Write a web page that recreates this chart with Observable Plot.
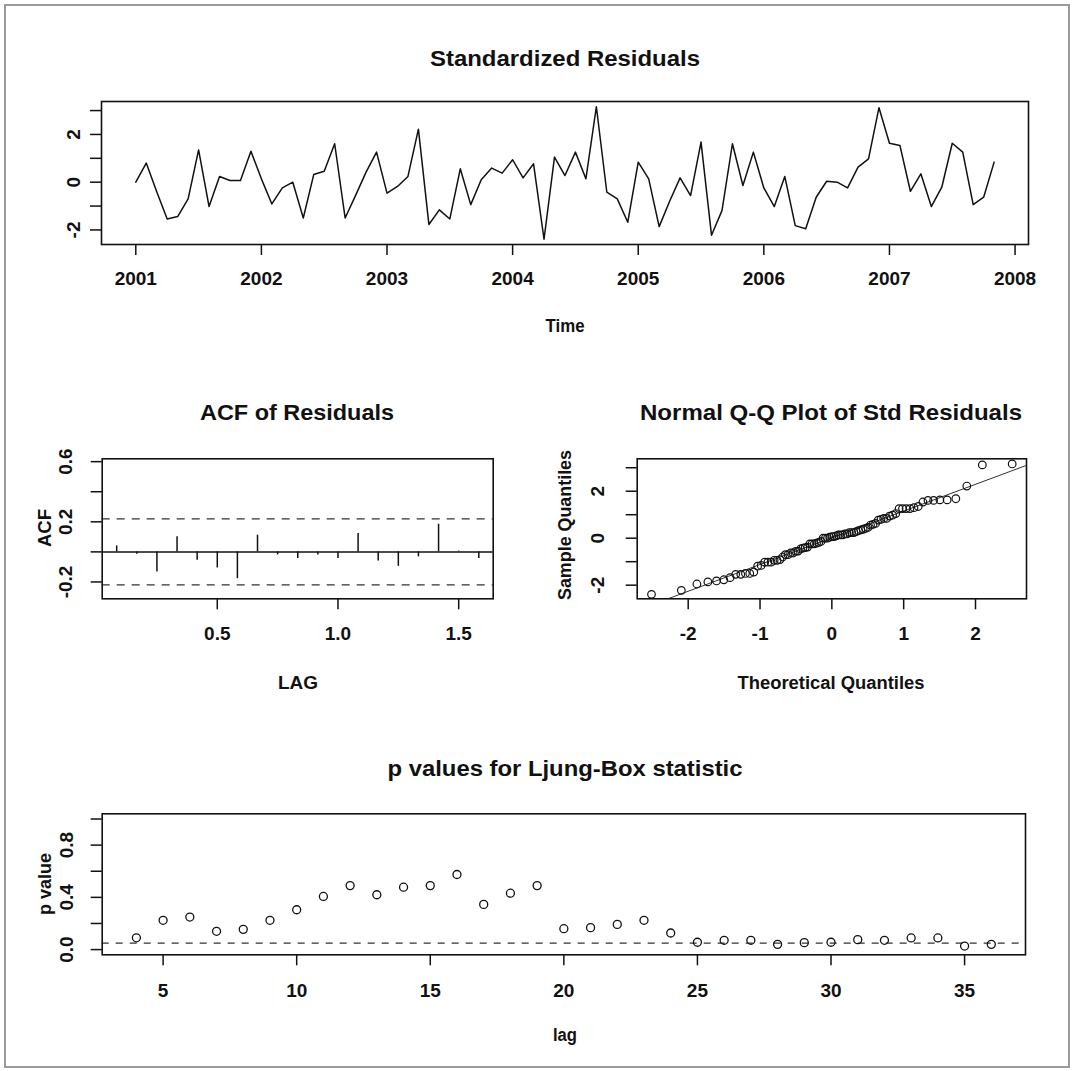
<!DOCTYPE html>
<html><head><meta charset="utf-8">
<script src="https://cdn.jsdelivr.net/npm/d3@7"></script>
<script src="https://cdn.jsdelivr.net/npm/@observablehq/plot@0.6"></script>
<style>
html,body{margin:0;padding:0;background:#fff;}
#root{position:relative;width:1075px;height:1071px;overflow:hidden;background:#fff;}
</style></head><body><div id="root"></div>
<script>
// ---------- data ----------
const residStart = 2001;      // monthly series, Jan 2001
const residFreq = 12;
const residuals = [0.0,0.80,-0.40,-1.54,-1.44,-0.70,1.35,-1.02,0.24,0.07,0.07,1.30,
  0.14,-0.91,-0.24,0.0,-1.50,0.32,0.46,1.61,-1.50,-0.55,0.42,1.26,
  -0.46,-0.18,0.24,2.22,-1.77,-1.16,-1.54,0.56,-0.94,0.10,0.59,0.38,
  0.94,0.18,0.77,-2.39,1.05,0.28,1.26,0.14,3.16,-0.42,-0.70,-1.68,
  0.84,0.14,-1.86,-0.80,0.18,-0.56,1.68,-2.22,-1.19,1.61,-0.14,1.26,
  -0.24,-1.02,0.24,-1.82,-1.95,-0.63,0.04,0.0,-0.24,0.63,0.98,3.12,
  1.63,1.54,-0.38,0.35,-1.02,-0.21,1.63,1.26,-0.94,-0.63,0.84];
const yearTicks = [2001,2002,2003,2004,2005,2006,2007,2008];
const residYTicks = [-2,-1,0,1,2,3];
const residYLabels = [-2,0,2];

const acfLagMonths = [1,2,3,4,5,6,7,8,9,10,11,12,13,14,15,16,17,18,19];
const acfValues = [0.04,-0.015,-0.133,0.10,-0.056,-0.107,-0.178,0.111,-0.02,-0.044,
  -0.02,-0.044,0.122,-0.06,-0.096,-0.033,0.184,0.005,-0.044];
const acfBound = 0.22;
const acfXTicks = [0.5,1.0,1.5];
const acfYTicks = [-0.2,0,0.2,0.4,0.6];
const acfYLabels = [-0.2,0.2,0.6];

const qqXTicks = [-2,-1,0,1,2];
const qqYTicks = [-2,-1,0,1,2,3];
const qqYLabels = [-2,0,2];

const lbLags = [4,5,6,7,8,9,10,11,12,13,14,15,16,17,18,19,20,21,22,23,24,25,26,27,28,29,30,31,32,33,34,35,36];
const lbPValues = [0.09,0.224,0.249,0.14,0.155,0.224,0.305,0.407,0.49,0.42,0.478,0.49,0.575,0.346,0.432,0.49,
  0.16,0.168,0.193,0.224,0.127,0.056,0.071,0.071,0.04,0.053,0.056,0.076,0.071,0.089,0.089,0.027,0.04];
const lbSignif = 0.05;
const lbXTicks = [5,10,15,20,25,30,35];
const lbYTicks = [0,0.2,0.4,0.6,0.8,1.0];
const lbYLabels = [0,0.4,0.8];

// ---------- helpers ----------
function qnorm(p){
  const a=[-3.969683028665376e+01,2.209460984245205e+02,-2.759285104469687e+02,1.383577518672690e+02,-3.066479806614716e+01,2.506628277459239e+00];
  const b=[-5.447609879822406e+01,1.615858368580409e+02,-1.556989798598866e+02,6.680131188771972e+01,-1.328068155288572e+01];
  const c=[-7.784894002430293e-03,-3.223964580411365e-01,-2.400758277161838e+00,-2.549732539343734e+00,4.374664141464968e+00,2.938163982698783e+00];
  const e=[7.784695709041462e-03,3.224671290700398e-01,2.445134137142996e+00,3.754408661907416e+00];
  const pl=0.02425, ph=1-pl; let q,r;
  if(p<pl){q=Math.sqrt(-2*Math.log(p));return (((((c[0]*q+c[1])*q+c[2])*q+c[3])*q+c[4])*q+c[5])/((((e[0]*q+e[1])*q+e[2])*q+e[3])*q+1);}
  if(p<=ph){q=p-0.5;r=q*q;return (((((a[0]*r+a[1])*r+a[2])*r+a[3])*r+a[4])*r+a[5])*q/(((((b[0]*r+b[1])*r+b[2])*r+b[3])*r+b[4])*r+1);}
  q=Math.sqrt(-2*Math.log(1-p));return -(((((c[0]*q+c[1])*q+c[2])*q+c[3])*q+c[4])*q+c[5])/((((e[0]*q+e[1])*q+e[2])*q+e[3])*q+1);
}
const fmtR = d => String(d).replace("\u2212","-");
const fmt1 = d => d.toFixed(1);
const FONT = "'Liberation Sans', Arial, Helvetica, sans-serif";
const INK = "#111";
const baseStyle = {fontFamily: FONT, fontSize: "19px", fontWeight: "bold", color: INK, background: "transparent", overflow: "visible"};
const root = document.getElementById("root");
function place(svg, left, top){
  svg.style.position = "absolute";
  svg.style.left = left + "px";
  svg.style.top = top + "px";
  svg.style.maxWidth = "none";
  root.appendChild(svg);
}

// ---------- panel 1: standardized residuals ----------
const residData = residuals.map((r,i) => ({t: residStart + i/residFreq, r}));
const p1 = Plot.plot({
  width: 1075, height: 300,
  marginLeft: 101, marginRight: 47, marginTop: 101, marginBottom: 56,
  style: baseStyle,
  x: {domain: [2000.727, 2008.107]},
  y: {domain: [-2.61, 3.38]},
  marks: [
    Plot.line(residData, {x: "t", y: "r", stroke: INK, strokeWidth: 1.5}),
    Plot.frame({stroke: INK, strokeWidth: 1.6}),
    Plot.axisX({ticks: yearTicks, tickSize: 11, tickPadding: 16, tickFormat: d => String(d), label: null, strokeWidth: 1.5}),
    Plot.axisY({ticks: residYTicks, tickSize: 11, tickPadding: 11, tickRotate: -90, label: null, strokeWidth: 1.5,
      tickFormat: d => residYLabels.includes(d) ? fmtR(d) : ""})
  ]
});
place(p1, 0, 0);

// ---------- panel 2: ACF ----------
const acfData = acfLagMonths.map((m,i) => ({lag: m/12, acf: acfValues[i]}));
const p2 = Plot.plot({
  width: 530, height: 230,
  marginLeft: 101.7, marginRight: 37.3, marginTop: 28.3, marginBottom: 61.7,
  style: baseStyle,
  x: {domain: [0.0233, 1.643]},
  y: {domain: [-0.312, 0.619]},
  marks: [
    Plot.ruleY([acfBound, -acfBound], {stroke: "#333", strokeWidth: 1.3, strokeDasharray: "8,7"}),
    Plot.ruleY([0], {stroke: INK, strokeWidth: 1.5}),
    Plot.ruleX(acfData, {x: "lag", y1: 0, y2: "acf", stroke: INK, strokeWidth: 1.5}),
    Plot.frame({stroke: INK, strokeWidth: 1.6}),
    Plot.axisX({ticks: acfXTicks, tickSize: 11, tickPadding: 17, tickFormat: fmt1, label: null, strokeWidth: 1.5}),
    Plot.axisY({ticks: acfYTicks, tickSize: 11, tickPadding: 19, tickRotate: -90, label: null, strokeWidth: 1.5,
      tickFormat: d => acfYLabels.some(v => Math.abs(v-d)<1e-9) ? fmtR(fmt1(d)) : ""})
  ]
});
place(p2, 0, 430);

// ---------- panel 3: normal Q-Q ----------
const sorted = residuals.slice().sort((a,b) => a-b);
const n = sorted.length;
const qqData = sorted.map((v,i) => ({tq: qnorm((i+0.5)/n), sq: v}));
const q1 = d3.quantile(sorted, 0.25), q3 = d3.quantile(sorted, 0.75);
const z1 = qnorm(0.25), z3 = qnorm(0.75);
const slope = (q3-q1)/(z3-z1), intercept = q1 - slope*z1;
const qqXDomain = [-2.71, 2.71];
const qqLine = qqXDomain.map(x => ({tq: x, sq: intercept + slope*x}));
const p3 = Plot.plot({
  width: 545, height: 230,
  marginLeft: 106.7, marginRight: 49, marginTop: 28.3, marginBottom: 61.7,
  style: baseStyle,
  x: {domain: qqXDomain},
  y: {domain: [-2.58, 3.38]},
  marks: [
    Plot.line(qqLine, {x: "tq", y: "sq", stroke: "#333", strokeWidth: 1, clip: true}),
    Plot.dot(qqData, {x: "tq", y: "sq", r: 3.8, stroke: INK, strokeWidth: 1.2, fill: "none"}),
    Plot.frame({stroke: INK, strokeWidth: 1.6}),
    Plot.axisX({ticks: qqXTicks, tickSize: 11, tickPadding: 17, tickFormat: fmtR, label: null, strokeWidth: 1.5}),
    Plot.axisY({ticks: qqYTicks, tickSize: 11, tickPadding: 22, tickRotate: -90, label: null, strokeWidth: 1.5,
      tickFormat: d => qqYLabels.includes(d) ? fmtR(d) : ""})
  ]
});
place(p3, 530, 430);

// ---------- panel 4: Ljung-Box ----------
const lbData = lbLags.map((l,i) => ({lag: l, p: lbPValues[i]}));
const p4 = Plot.plot({
  width: 1075, height: 230,
  marginLeft: 101.7, marginRight: 50, marginTop: 23.3, marginBottom: 65.7,
  style: baseStyle,
  x: {domain: [2.72, 37.28]},
  y: {domain: [-0.04, 1.04]},
  marks: [
    Plot.ruleY([lbSignif], {stroke: "#333", strokeWidth: 1.3, strokeDasharray: "7,7"}),
    Plot.dot(lbData, {x: "lag", y: "p", r: 4, stroke: INK, strokeWidth: 1.3, fill: "none"}),
    Plot.frame({stroke: INK, strokeWidth: 1.6}),
    Plot.axisX({ticks: lbXTicks, tickSize: 11, tickPadding: 18, tickFormat: d => String(d), label: null, strokeWidth: 1.5}),
    Plot.axisY({ticks: lbYTicks, tickSize: 11, tickPadding: 18, tickRotate: -90, label: null, strokeWidth: 1.5,
      tickFormat: d => lbYLabels.some(v => Math.abs(v-d)<1e-9) ? fmt1(d) : ""})
  ]
});
place(p4, 0, 790);

// ---------- titles and axis labels ----------
const overlay = d3.create("svg").attr("width",1075).attr("height",1071)
  .style("position","absolute").style("left","0px").style("top","0px").style("pointer-events","none");
overlay.append("rect").attr("x",5).attr("y",5).attr("width",1064).attr("height",1062)
  .attr("fill","none").attr("stroke","#9a9a9a").attr("stroke-width",2);
const texts = [
  {t:"Standardized Residuals", x:565, y:58, s:22, w:270},
  {t:"Time", x:565, y:326, s:18, w:39},
  {t:"ACF of Residuals", x:297, y:412, s:22, w:194},
  {t:"Normal Q-Q Plot of Std Residuals", x:831, y:412, s:22, w:382},
  {t:"LAG", x:298, y:683, s:18, w:40},
  {t:"Theoretical Quantiles", x:831, y:683, s:18, w:187},
  {t:"p values for Ljung-Box statistic", x:565, y:768, s:22, w:355},
  {t:"lag", x:565, y:1035, s:18, w:24},
  {t:"ACF", x:45, y:528, s:18, w:38, rot:true},
  {t:"Sample Quantiles", x:565, y:525, s:18, w:150, rot:true},
  {t:"p value", x:45, y:884, s:18, w:62, rot:true}
];
for (const d of texts){
  overlay.append("text")
    .attr("transform", `translate(${d.x},${d.y})` + (d.rot ? " rotate(-90)" : ""))
    .attr("text-anchor","middle").attr("dominant-baseline","central")
    .attr("font-family", FONT).attr("font-weight","bold").attr("font-size", d.s)
    .attr("fill", INK)
    .attr("textLength", d.w).attr("lengthAdjust","spacingAndGlyphs")
    .text(d.t);
}
root.appendChild(overlay.node());
</script></body></html>
